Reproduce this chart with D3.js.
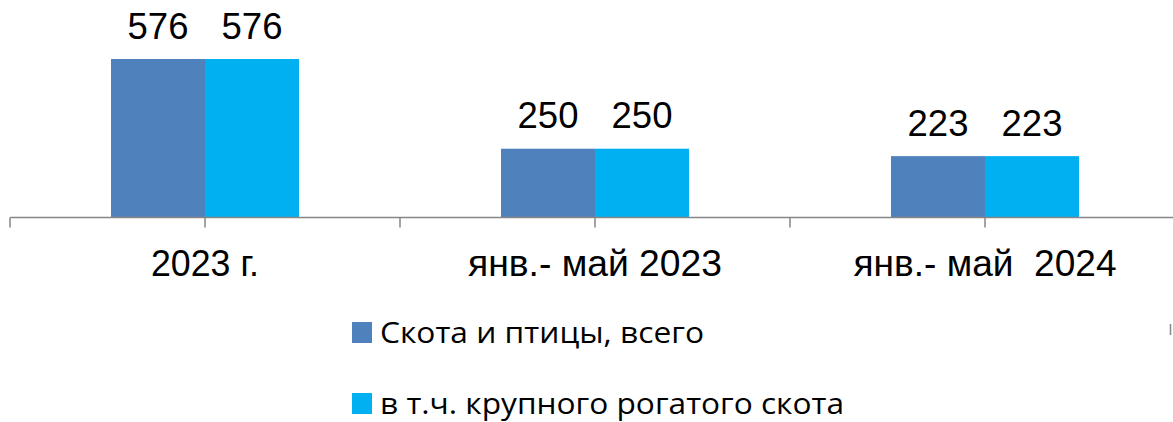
<!DOCTYPE html>
<html><head><meta charset="utf-8">
<script src="https://cdn.jsdelivr.net/npm/d3@7"></script>
<style>body{margin:0;background:#fff;}svg{display:block;}</style>
</head><body>
<svg id="c" width="1173" height="422"></svg>
<script>
const categories = ["2023 г.", "янв.- май 2023", "янв.- май\u00a0 2024"];
const seriesNames = ["Скота и птицы, всего", "в т.ч. крупного рогатого скота"];
const seriesAll = [576, 250, 223];
const seriesCattle = [576, 250, 223];
const colors = ["#4F81BD", "#00B0F0"];

const svg = d3.select("#c");
const baseY = 217.5;
const x0 = d3.scaleBand().domain(categories).range([10, 1180]).padding(0);
const x1 = d3.scaleBand().domain(seriesNames).range([0, x0.bandwidth()]).paddingInner(0).paddingOuter(1.074);
const y = d3.scaleLinear().domain([0, 576]).range([baseY, 59]);

const data = categories.map((c, i) => ({cat: c, vals: [seriesAll[i], seriesCattle[i]]}));

const g = svg.append("g");
data.forEach(d => {
  d.vals.forEach((v, j) => {
    const sx = x0(d.cat) + x1(seriesNames[j]);
    g.append("rect").attr("x", sx).attr("y", y(v)).attr("width", x1.bandwidth()).attr("height", baseY - y(v)).attr("fill", colors[j]);
    g.append("text").attr("x", sx + x1.bandwidth()/2).attr("y", y(v) - 20.5)
      .attr("text-anchor", "middle").attr("font-family", "Liberation Sans, Arial, sans-serif")
      .attr("font-size", 36.5).attr("fill", "#000").text(v);
  });
});

// axis
const axisG = svg.append("g").attr("transform", `translate(0,${baseY})`);
axisG.append("line").attr("x1", 10).attr("x2", 1180).attr("y1", 0).attr("y2", 0).attr("stroke", "#868686").attr("stroke-width", 1.5);
const tickPos = [];
categories.forEach(c => { tickPos.push(x0(c)); tickPos.push(x0(c) + x0.bandwidth()/2); });
tickPos.push(x0(categories[categories.length-1]) + x0.bandwidth());
axisG.selectAll("line.t").data(tickPos).enter().append("line").attr("class","t")
  .attr("x1", d => d).attr("x2", d => d).attr("y1", 0).attr("y2", 10)
  .attr("stroke", "#868686").attr("stroke-width", 1.5);
const catW = [108, 254, 263];
axisG.selectAll("text").data(categories).enter().append("text")
  .attr("x", d => x0(d) + x0.bandwidth()/2).attr("y", 58.5)
  .attr("text-anchor", "middle").attr("font-family", "Liberation Sans, Arial, sans-serif")
  .attr("font-size", 36).attr("fill", "#000")
  .attr("textLength", (d, i) => catW[i]).attr("lengthAdjust", "spacingAndGlyphs")
  .style("white-space","pre").text(d => d);

// legend
const legY = [322, 393];
const legW = [324, 464];
seriesNames.forEach((s, i) => {
  svg.append("rect").attr("x", 352).attr("y", legY[i]).attr("width", 20).attr("height", 21).attr("fill", colors[i]);
  svg.append("text").attr("x", 380).attr("y", legY[i] + 21)
    .attr("font-family", "Open Sans, Noto Sans, sans-serif").attr("font-size", 30)
    .attr("textLength", legW[i]).attr("lengthAdjust", "spacingAndGlyphs")
    .attr("fill", "#000").text(s);
});
// small mark at right edge
svg.append("line").attr("x1", 1170.5).attr("x2", 1170.5).attr("y1", 324).attr("y2", 335).attr("stroke", "#868686").attr("stroke-width", 1.5);
</script>
</body></html>
